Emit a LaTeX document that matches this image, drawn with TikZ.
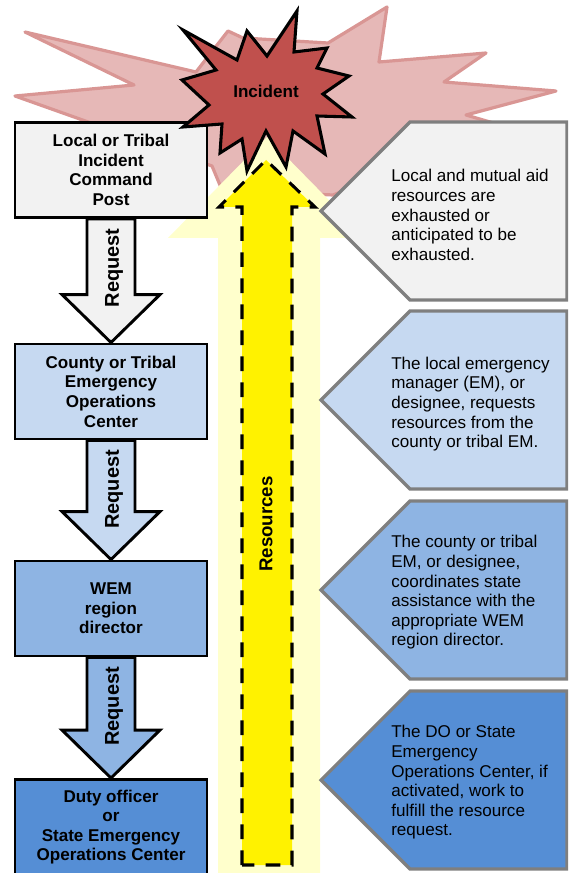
\documentclass[tikz,border=0pt]{standalone}
\usepackage{fontspec}
\setmainfont{Liberation Sans}
\usetikzlibrary{calc}

\definecolor{palered}{HTML}{E6B8B7}
\definecolor{palerededge}{HTML}{D99694}
\definecolor{incidentred}{HTML}{C0504D}
\definecolor{paleyellow}{HTML}{FFFFCC}
\definecolor{stepgrey}{HTML}{F2F2F2}
\definecolor{stepone}{HTML}{C6D9F1}
\definecolor{steptwo}{HTML}{8EB4E3}
\definecolor{stepthree}{HTML}{558ED5}
\definecolor{noteedge}{HTML}{7F7F7F}

\tikzset{
  stepbox/.style={draw=black, line width=2.2pt, minimum width=144pt, minimum height=71.25pt,
    inner sep=0pt, align=center, font=\fontsize{12.8}{14.7}\selectfont\bfseries},
  reqline/.style={draw=black, line width=2.2pt, line join=miter},
  reqtext/.style={rotate=90, inner sep=0pt, font=\fontsize{15}{18}\selectfont\bfseries},
  noteline/.style={draw=noteedge, line width=2.4pt, line join=miter},
  notetext/.style={anchor=west, inner sep=0pt, align=left, font=\fontsize{12.8}{14.7}\selectfont},
}

% block arrow from one box down to the next
\newcommand{\reqarrow}[3]{
  \draw[reqline, fill=#3] ($(#1.south)+(-24,0)$) -- ($(#2.north)+(-24,-48)$) -- ($(#2.north)+(-49,-48)$) -- (#2.north)
    -- ($(#2.north)+(49,-48)$) -- ($(#2.north)+(24,-48)$) -- ($(#1.south)+(24,0)$) -- cycle;
  \node[reqtext] (req#1) at ($(#1.south)+(3,49)$) {Request};
}
% grey edged note, the tip points left
\newcommand{\notebox}[2]{
  \draw[noteline, fill=#2] (567,#1-89) -- (410,#1-89) -- (321,#1) -- (410,#1+89) -- (567,#1+89) -- cycle;
}

\begin{document}
\begin{tikzpicture}[x=0.75pt, y=-0.75pt]
  \clip (0,0) rectangle (568,873);

  % blast behind everything
  \draw[draw=palerededge, fill=palered, line width=2.4pt, line join=round]
    (25,32) -- (196,72) -- (228,31) -- (243,38) -- (328,43) -- (387,7) -- (379,62) -- (486,53) -- (444,82)
    -- (556,91) -- (466,115) -- (507,127) -- (333,195) -- (222,190) -- (212,166) -- (15,96) -- (134,85) -- cycle;

  % wide pale arrow
  \fill[paleyellow] (218,873) -- (218,238) -- (168,238) -- (267,137) -- (366,238) -- (320,238) -- (320,873) -- cycle;

  \node[stepbox, fill=stepgrey] (post) at (111,170) {Local or Tribal\\Incident\\Command\\Post};
  \node[stepbox, fill=stepone] (county) at (111,391.5) {County or Tribal\\Emergency\\Operations\\Center};
  \node[stepbox, fill=steptwo] (wem) at (111,608.5) {WEM\\region\\director};
  \node[stepbox, fill=stepthree] (state) at (111,827) {Duty officer\\or\\State Emergency\\Operations Center};

  \reqarrow{post}{county}{stepgrey}
  \reqarrow{county}{wem}{stepone}
  \reqarrow{wem}{state}{steptwo}

  \notebox{211}{stepgrey}
  \notebox{400}{stepone}
  \notebox{590}{steptwo}
  \notebox{780}{stepthree}

  \node[notetext] (note1) at (391,215) {Local and mutual aid\\resources are\\exhausted or\\anticipated to be\\exhausted.};
  \node[notetext] (note2) at (391,404) {The local emergency\\manager (EM), or\\designee, requests\\resources from the\\county or tribal EM.};
  \node[notetext] (note3) at (391,592.5) {The county or tribal\\EM, or designee,\\coordinates state\\assistance with the\\appropriate WEM\\region director.};
  \node[notetext] (note4) at (391,782.5) {The DO or State\\Emergency\\Operations Center, if\\activated, work to\\fulfill the resource\\request.};

  % resources arrow
  \draw[fill=yellow, line width=2.3pt, dash pattern=on 11pt off 8.5pt]
    (242,865) -- (242,207) -- (219,207) -- (266,160) -- (315,207) -- (292,207) -- (292,865) -- cycle;
  \node[rotate=90, inner sep=0pt, font=\fontsize{14}{16}\selectfont\bfseries] (resources) at (266,524) {Resources};

  % the incident itself
  \draw[draw=black, fill=incidentred, line width=2.3pt, line join=miter]
    (297,11) -- (294,52) -- (327,48) -- (317,68) -- (349,76) -- (323,94) -- (352,117) -- (317,116) -- (325,154)
    -- (293,131) -- (286,167) -- (266,131) -- (247,171) -- (242,139) -- (220,153) -- (222,124) -- (183,127)
    -- (209,105) -- (182,80) -- (216,70) -- (183,30) -- (237,60) -- (247,31) -- (267,56) -- cycle;
  \node[inner sep=0pt, font=\fontsize{12.8}{14.7}\selectfont\bfseries] (incident) at (266,91) {Incident};
\end{tikzpicture}
\end{document}
